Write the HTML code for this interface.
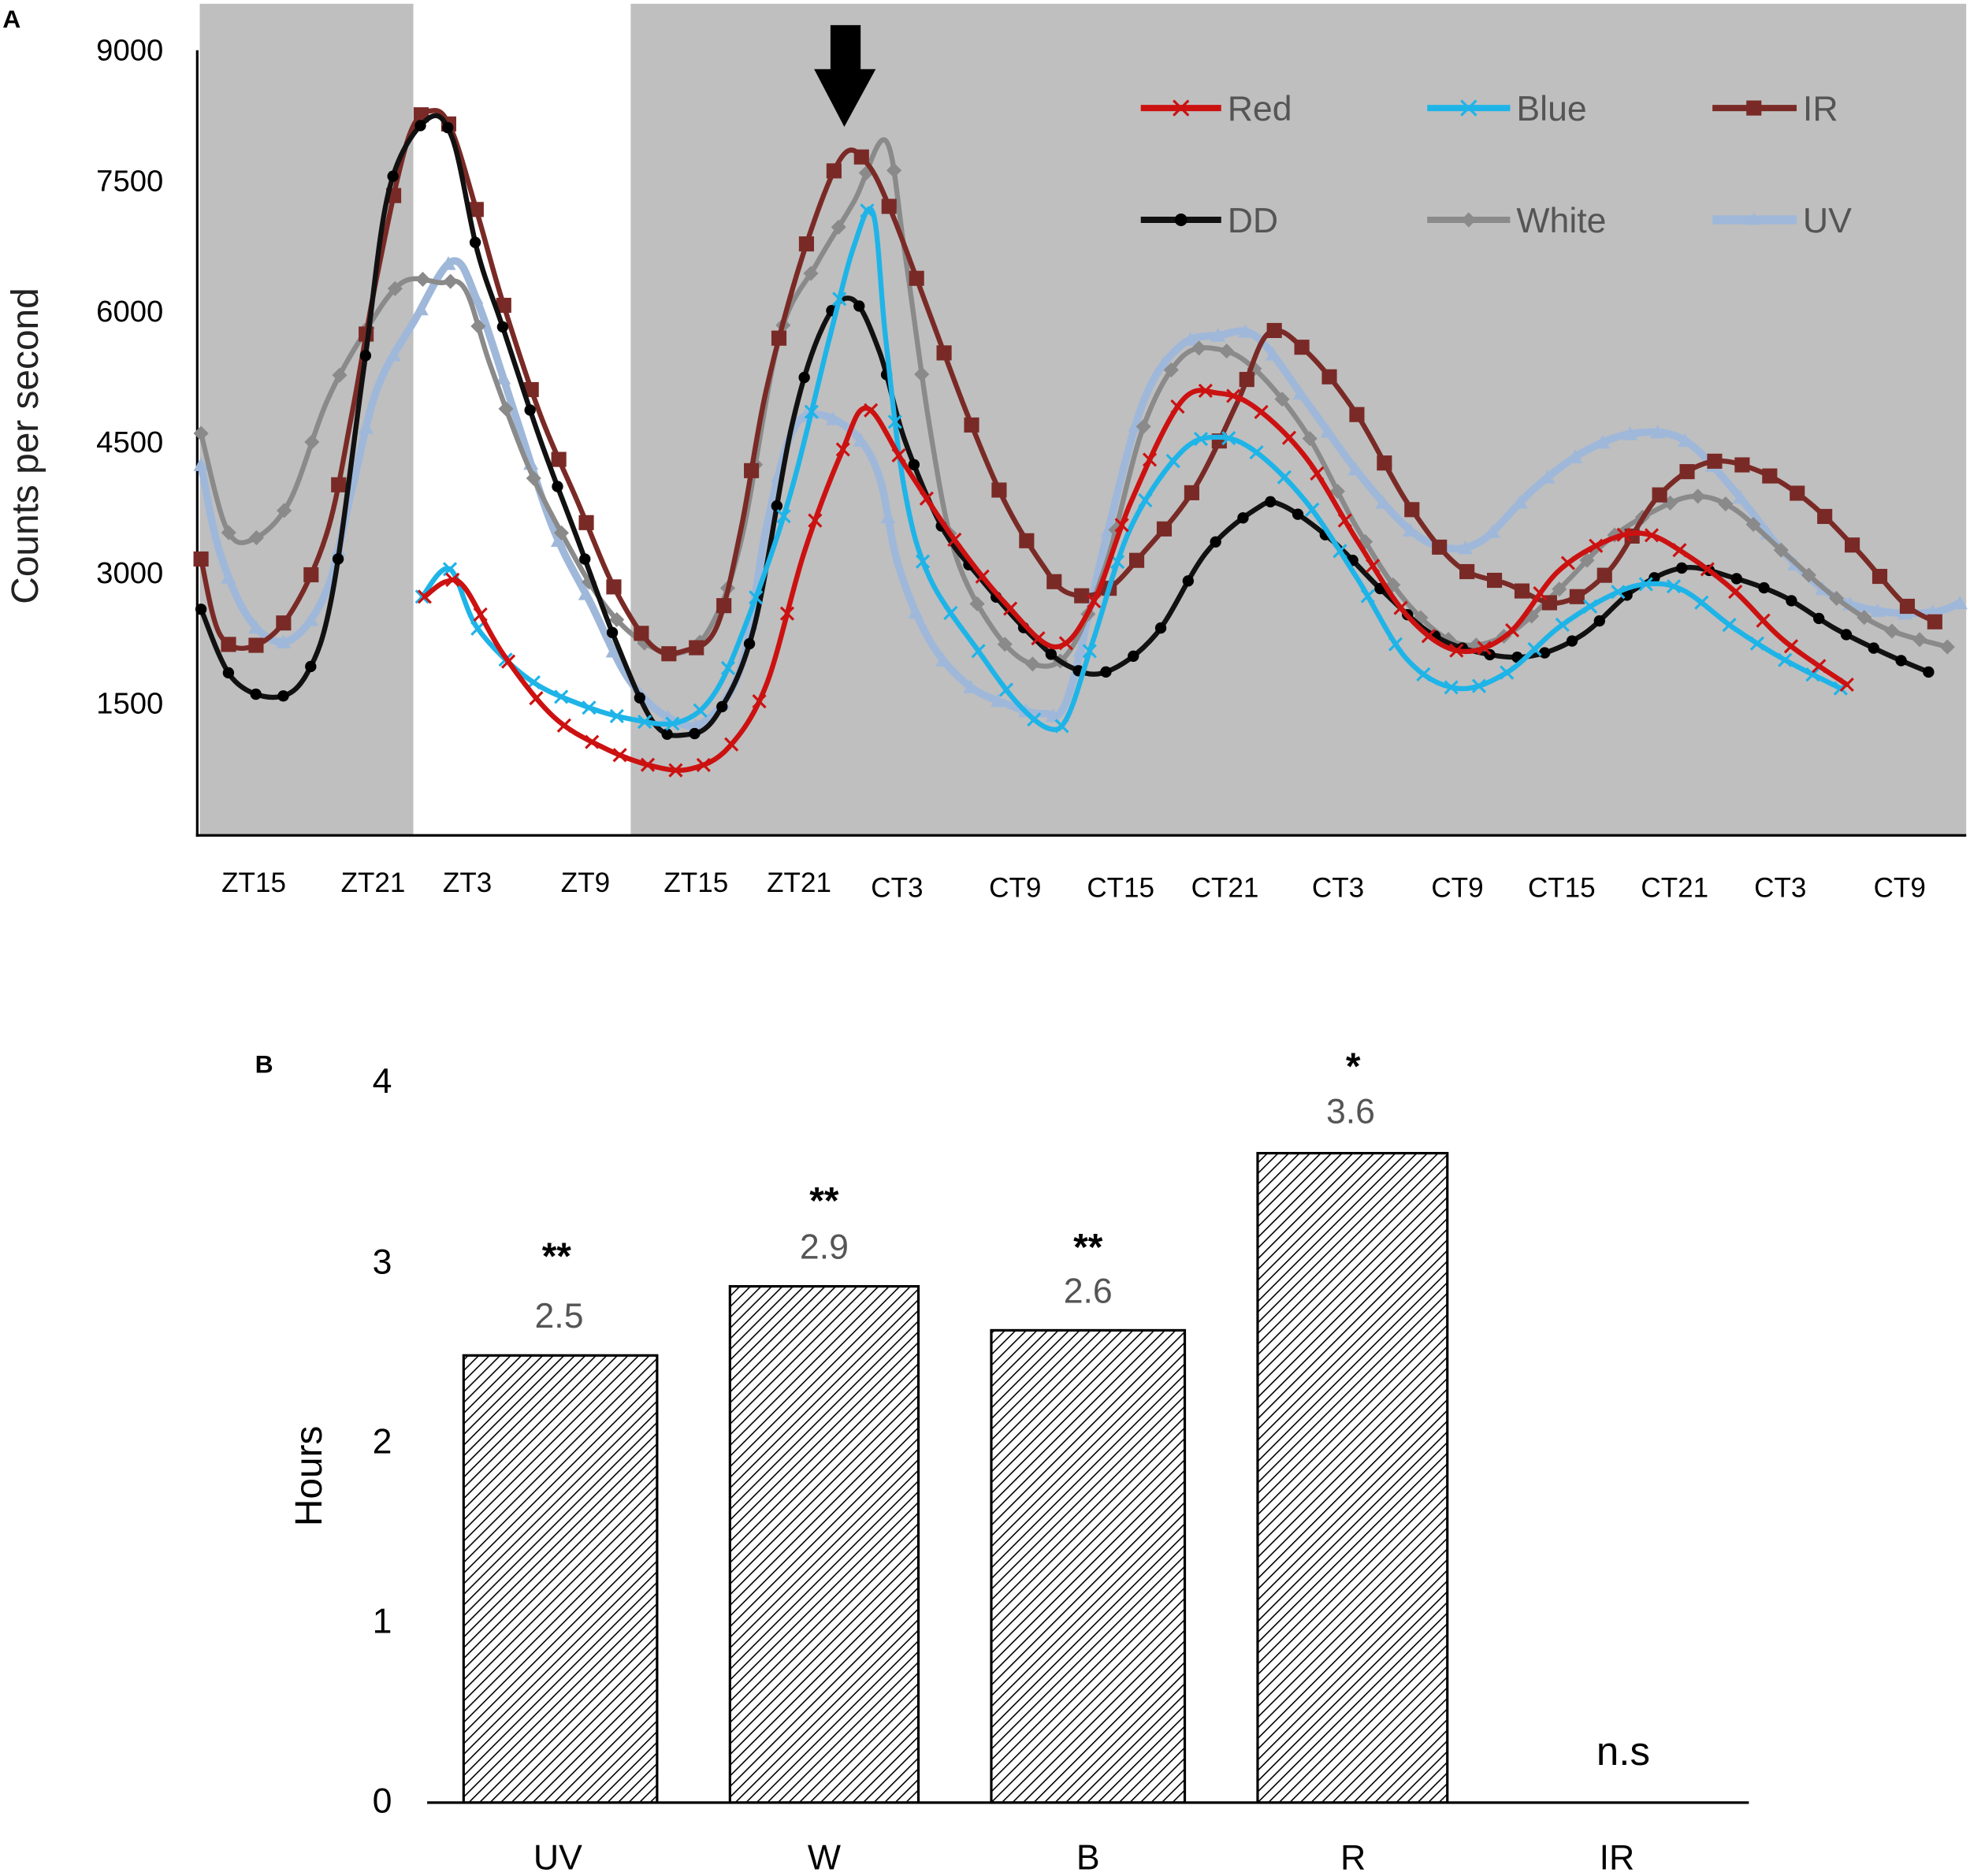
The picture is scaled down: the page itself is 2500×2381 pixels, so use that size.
<!DOCTYPE html>
<html><head><meta charset="utf-8"><style>html,body{margin:0;padding:0;background:#fff}svg{display:block}</style></head>
<body>
<svg id="s" width="2500" height="2381" viewBox="0 0 1568 1493.4" preserveAspectRatio="none" xmlns="http://www.w3.org/2000/svg" font-family="Liberation Sans, sans-serif">
<defs>
<pattern id="hatch" width="6" height="6" patternUnits="userSpaceOnUse" patternTransform="rotate(45)"><rect width="6" height="6" fill="#fff"/><line x1="0" y1="0" x2="0" y2="6" stroke="#000" stroke-width="2"/></pattern>
</defs>
<text x="2" y="22" font-size="20" font-weight="bold">A</text>
<rect x="159" y="3" width="170" height="662" fill="#bfbfbf"/>
<rect x="502" y="3" width="1063" height="662" fill="#bfbfbf"/>
<line x1="157" y1="40" x2="157" y2="666" stroke="#000" stroke-width="2"/>
<line x1="156" y1="665" x2="1565" y2="665" stroke="#000" stroke-width="2"/>
<g font-size="24" text-anchor="end" fill="#000">
<text x="130" y="48">9000</text><text x="130" y="152">7500</text><text x="130" y="256">6000</text><text x="130" y="360">4500</text><text x="130" y="464">3000</text><text x="130" y="568">1500</text>
</g>
<text transform="translate(30,355) rotate(-90)" font-size="30" text-anchor="middle" fill="#222">Counts per second</text>
<g font-size="22" text-anchor="middle">
<text x="202" y="710">ZT15</text><text x="297" y="710">ZT21</text><text x="372" y="710">ZT3</text><text x="466" y="710">ZT9</text><text x="554" y="710">ZT15</text><text x="636" y="710">ZT21</text><text x="714" y="714">CT3</text><text x="808" y="714">CT9</text><text x="892" y="714">CT15</text><text x="975" y="714">CT21</text><text x="1065" y="714">CT3</text><text x="1160" y="714">CT9</text><text x="1243" y="714">CT15</text><text x="1333" y="714">CT21</text><text x="1417" y="714">CT3</text><text x="1512" y="714">CT9</text>
</g>
<g id="series"></g>
<rect x="661" y="20" width="24" height="36" fill="#000"/>
<path d="M648 55L697 55L672 101Z" fill="#000"/>
<g stroke-width="5">
<line x1="908" y1="86" x2="972" y2="86" stroke="#cc1111"/><path d="M934 80L946 92M934 92L946 80" stroke="#cc1111" stroke-width="2"/>
<line x1="1136" y1="86" x2="1202" y2="86" stroke="#1eb4e8"/><path d="M1163 80L1175 92M1163 92L1175 80" stroke="#1eb4e8" stroke-width="2"/>
<line x1="1363" y1="86" x2="1430" y2="86" stroke="#7a2a26"/><rect x="1390" y="80" width="12" height="12" fill="#7a2a26" stroke="none"/>
<line x1="908" y1="175" x2="972" y2="175" stroke="#111"/><circle cx="940" cy="175" r="5" fill="#000" stroke="none"/>
<line x1="1136" y1="175" x2="1202" y2="175" stroke="#8a8a8a"/><path d="M1169 169L1175 175L1169 181L1163 175Z" fill="#8a8a8a" stroke="none"/>
<line x1="1363" y1="175" x2="1430" y2="175" stroke="#9fb8da" stroke-width="7"/><path d="M1396 169L1402 179L1390 179Z" fill="#9fb8da" stroke="none"/>
</g>
<g font-size="28" fill="#555">
<text x="977" y="96">Red</text><text x="1207" y="96">Blue</text><text x="1435" y="96">IR</text>
<text x="977" y="185">DD</text><text x="1207" y="185">White</text><text x="1435" y="185">UV</text>
</g>
<text x="203" y="854" font-size="20" font-weight="bold">B</text>
<g font-size="28" text-anchor="end">
<text x="312" y="870">4</text><text x="312" y="1014">3</text><text x="312" y="1157">2</text><text x="312" y="1300">1</text><text x="312" y="1443">0</text>
</g>
<text transform="translate(256,1175) rotate(-90)" font-size="30" text-anchor="middle">Hours</text>
<g stroke="#000" stroke-width="2" fill="url(#hatch)">
<rect x="369" y="1079" width="154" height="356"/>
<rect x="581" y="1024" width="150" height="411"/>
<rect x="789" y="1059" width="154" height="376"/>
<rect x="1001" y="918" width="151" height="517"/>
</g>
<line x1="340" y1="1435" x2="1392" y2="1435" stroke="#000" stroke-width="2"/>
<g font-size="28" text-anchor="middle" fill="#555">
<text x="445" y="1057">2.5</text><text x="656" y="1002">2.9</text><text x="866" y="1037">2.6</text><text x="1075" y="894">3.6</text>
</g>
<g font-size="30" text-anchor="middle" font-weight="bold">
<text x="443" y="1010">**</text><text x="656" y="966">**</text><text x="866" y="1003">**</text><text x="1077" y="859">*</text>
<text x="1292" y="1405" font-weight="normal" font-size="32">n.s</text>
</g>
<g font-size="28" text-anchor="middle">
<text x="444" y="1488">UV</text><text x="656" y="1488">W</text><text x="866" y="1488">B</text><text x="1077" y="1488">R</text><text x="1287" y="1488">IR</text>
</g>
</svg>
<script>
var S=[
["#9fb8da",6,"t","160,370 175,440 200,495 230,510 260,470 280,390 300,310 330,255 360,208 380,240 410,330 440,420 470,480 500,540 530,570 560,575 590,530 610,420 630,345 650,330 680,345 700,380 715,450 740,510 770,545 800,560 830,568 850,555 880,430 910,320 940,275 970,267 1000,268 1040,320 1080,375 1120,420 1150,436 1180,430 1220,390 1260,360 1300,345 1340,350 1380,390 1420,440 1460,475 1500,487 1540,487 1560,480"],
["#8a8a8a",4,"d","160,345 180,420 200,430 230,400 260,320 290,265 320,225 350,225 370,230 390,290 420,370 450,430 480,480 510,510 540,520 565,500 590,430 620,270 650,210 680,160 705,112 720,200 740,340 760,440 790,500 820,528 850,520 880,450 910,340 940,285 970,278 1000,295 1040,345 1080,420 1120,480 1160,512 1200,505 1240,470 1280,430 1320,405 1350,395 1380,405 1420,440 1460,475 1500,500 1550,515"],
["#7a2a26",4,"s","160,445 175,505 200,515 230,490 260,425 280,330 300,220 325,110 345,88 360,105 380,170 400,240 430,330 460,400 490,470 520,515 545,518 570,500 590,420 610,310 640,200 670,125 690,130 710,170 740,250 770,330 800,400 830,450 850,472 880,470 910,440 950,390 985,320 1010,265 1040,280 1080,330 1120,400 1160,450 1200,465 1240,480 1280,455 1320,395 1360,368 1400,375 1440,400 1480,440 1515,480 1540,495"],
["#111",4,"c","160,485 185,540 220,555 245,535 265,470 290,290 310,150 340,95 360,110 380,200 400,260 430,350 460,430 490,510 520,575 545,585 570,570 600,500 630,340 655,260 678,238 700,280 720,350 750,420 780,460 820,505 850,530 880,535 920,505 960,440 1000,405 1020,402 1060,430 1100,470 1140,505 1180,520 1220,522 1260,505 1300,470 1340,452 1380,460 1420,475 1460,500 1500,520 1535,535"],
["#1eb4e8",4,"x","336,475 358,453 380,500 420,540 460,560 500,572 540,575 570,550 600,480 630,390 660,270 680,195 695,170 705,270 720,390 740,460 780,520 810,560 835,580 850,570 870,510 900,420 940,360 970,348 1000,360 1040,400 1080,460 1120,525 1160,548 1200,535 1240,500 1280,475 1310,465 1340,470 1380,500 1420,525 1465,548"],
["#cc1111",4,"x","338,475 355,463 370,468 400,520 440,570 480,595 520,610 550,612 580,595 610,545 640,440 670,360 690,325 720,370 760,430 800,480 840,515 870,480 900,400 940,320 970,313 1000,325 1040,365 1080,430 1120,490 1160,518 1200,505 1240,455 1280,430 1310,425 1340,440 1380,470 1420,510 1470,545"]];
var NS="http://www.w3.org/2000/svg",G=document.getElementById("series");
function el(t,a){var e=document.createElementNS(NS,t);for(var k in a)e.setAttribute(k,a[k]);return e}
S.forEach(function(s){
 var p=s[3].split(" ").map(function(q){return q.split(",").map(Number)});
 var d="M"+p[0][0]+" "+p[0][1];
 for(var i=0;i<p.length-1;i++){var a=p[i-1]||p[i],b=p[i],c=p[i+1],e=p[i+2]||c;
  d+="C"+(b[0]+(c[0]-a[0])/6)+" "+(b[1]+(c[1]-a[1])/6)+" "+(c[0]-(e[0]-b[0])/6)+" "+(c[1]-(e[1]-b[1])/6)+" "+c[0]+" "+c[1];}
 var path=el("path",{d:d,fill:"none",stroke:s[0],"stroke-width":s[1],"stroke-linejoin":"round","stroke-linecap":"round"});
 G.appendChild(path);
 var L=path.getTotalLength(),n=Math.round((p[p.length-1][0]-p[0][0])/22);
 for(var j=0;j<=n;j++){
  // place markers evenly in x
  var tx=p[0][0]+j*(p[p.length-1][0]-p[0][0])/n,lo=0,hi=L;
  for(var k=0;k<30;k++){var m=(lo+hi)/2;if(path.getPointAtLength(m).x<tx)lo=m;else hi=m;}
  var pt=path.getPointAtLength(lo),x=pt.x,y=pt.y,c=s[0],m;
  if(s[2]=="x")m=el("path",{d:"M"+(x-5)+" "+(y-5)+"L"+(x+5)+" "+(y+5)+"M"+(x-5)+" "+(y+5)+"L"+(x+5)+" "+(y-5),stroke:c,"stroke-width":2});
  else if(s[2]=="s")m=el("rect",{x:x-6,y:y-6,width:12,height:12,fill:c});
  else if(s[2]=="c")m=el("circle",{cx:x,cy:y,r:4.5,fill:"#000"});
  else if(s[2]=="d")m=el("path",{d:"M"+x+" "+(y-6)+"L"+(x+6)+" "+y+"L"+x+" "+(y+6)+"L"+(x-6)+" "+y+"Z",fill:c});
  else m=el("path",{d:"M"+x+" "+(y-6)+"L"+(x+6)+" "+(y+5)+"L"+(x-6)+" "+(y+5)+"Z",fill:c});
  G.appendChild(m);
 }
});
</script>
</body></html>
